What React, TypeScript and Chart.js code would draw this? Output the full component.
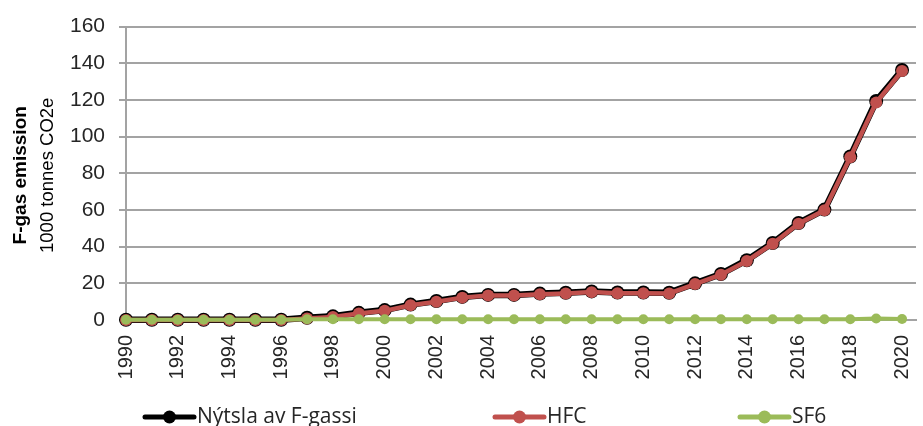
import React, { useEffect, useRef } from "react";
import { Chart, registerables } from "chart.js";

Chart.register(...registerables);

const years = [
  1990, 1991, 1992, 1993, 1994, 1995, 1996, 1997, 1998, 1999, 2000, 2001, 2002, 2003, 2004, 2005,
  2006, 2007, 2008, 2009, 2010, 2011, 2012, 2013, 2014, 2015, 2016, 2017, 2018, 2019, 2020,
];

const totalValues = [
  0.1, 0.1, 0.1, 0.1, 0.1, 0.1, 0.1, 1.2, 2.0, 3.9, 5.4, 8.4, 10.4, 12.6, 13.7, 13.7,
  14.4, 14.9, 15.6, 15.0, 15.0, 14.9, 20.0, 25.1, 32.6, 42.0, 52.9, 60.2, 89.2, 119.4, 136.3,
];

const hfcValues = [
  0, 0, 0, 0, 0, 0, 0, 0.8, 1.6, 3.5, 5.0, 8.0, 10.0, 12.2, 13.3, 13.3,
  14.0, 14.5, 15.2, 14.6, 14.6, 14.5, 19.6, 24.7, 32.2, 41.6, 52.5, 59.8, 88.8, 118.6, 135.8,
];

const sf6Values = [
  0.1, 0.1, 0.1, 0.1, 0.1, 0.1, 0.1, 0.4, 0.4, 0.4, 0.4, 0.4, 0.4, 0.4, 0.4, 0.4,
  0.4, 0.4, 0.4, 0.4, 0.4, 0.4, 0.4, 0.4, 0.4, 0.4, 0.4, 0.4, 0.4, 0.8, 0.5,
];

const seriesLabels = ["Nýtsla av F-gassi", "HFC", "SF6"];
const yTitleMain = "F-gas emission";
const yTitleSub = "1000 tonnes CO2e";

const COLORS = ["#000000", "#c0504d", "#9bbb59"];
const GRID = "#a3a3a3";
const TEXT = "#262626";
const LEGEND_X = [145, 495, 740];

function toPoints(vals: number[]) {
  return years.map((y, i) => ({ x: y, y: vals[i] }));
}

const customPlugin = {
  id: "customDecor",
  afterDraw(chart: any) {
    const ctx = chart.ctx as CanvasRenderingContext2D;
    const area = chart.chartArea;
    const cy = (area.top + area.bottom) / 2 + 2;
    ctx.save();
    ctx.translate(21, cy);
    ctx.rotate(-Math.PI / 2);
    ctx.textAlign = "center";
    ctx.textBaseline = "middle";
    ctx.fillStyle = "#000";
    ctx.font = "bold 19px 'Liberation Sans', Arial, sans-serif";
    ctx.fillText(yTitleMain, 0, 0);
    ctx.restore();
    ctx.save();
    ctx.translate(48, cy);
    ctx.rotate(-Math.PI / 2);
    ctx.textAlign = "center";
    ctx.textBaseline = "middle";
    ctx.fillStyle = "#000";
    ctx.font = "18.5px 'Liberation Sans', Arial, sans-serif";
    ctx.fillText(yTitleSub, 0, 0);
    ctx.restore();

    // Legend
    ctx.save();
    const ly = 417;
    const sample = 49;
    ctx.font = "21px 'Open Sans', 'Liberation Sans', sans-serif";
    ctx.textBaseline = "middle";
    ctx.textAlign = "left";
    seriesLabels.forEach((label, i) => {
      const x = LEGEND_X[i];
      const col = COLORS[i];
      ctx.strokeStyle = col;
      ctx.lineWidth = 5;
      ctx.lineCap = "round";
      ctx.beginPath();
      ctx.moveTo(x, ly);
      ctx.lineTo(x + sample, ly);
      ctx.stroke();
      ctx.fillStyle = col;
      ctx.beginPath();
      ctx.arc(x + sample / 2, ly, 6.5, 0, Math.PI * 2);
      ctx.fill();
      ctx.fillStyle = TEXT;
      ctx.fillText(label, x + sample + 3, ly);
    });
    ctx.restore();
  },
};

export default function App() {
  const ref = useRef<HTMLCanvasElement | null>(null);

  useEffect(() => {
    if (!ref.current) return;
    const chart = new Chart(ref.current, {
      type: "line",
      data: {
        datasets: [
          {
            label: seriesLabels[2],
            data: toPoints(sf6Values),
            borderColor: COLORS[2],
            backgroundColor: COLORS[2],
            pointBackgroundColor: COLORS[2],
            pointBorderColor: COLORS[2],
            borderWidth: 4,
            pointRadius: 5,
            pointBorderWidth: 0,
            order: 0,
            clip: false,
          },
          {
            label: seriesLabels[1],
            data: toPoints(hfcValues),
            borderColor: COLORS[1],
            backgroundColor: COLORS[1],
            pointBackgroundColor: COLORS[1],
            pointBorderColor: COLORS[1],
            borderWidth: 4.5,
            pointRadius: 6,
            pointBorderWidth: 0,
            order: 1,
            clip: false,
          },
          {
            label: seriesLabels[0],
            data: toPoints(totalValues),
            borderColor: COLORS[0],
            backgroundColor: COLORS[0],
            pointBackgroundColor: COLORS[0],
            pointBorderColor: COLORS[0],
            borderWidth: 6.5,
            pointRadius: 7,
            pointBorderWidth: 0,
            order: 2,
            clip: false,
          },
        ],
      },
      options: {
        animation: false,
        responsive: false,
        events: [],
        layout: { padding: { top: 24, left: 0, right: 0, bottom: 0 } },
        plugins: {
          legend: { display: false },
          tooltip: { enabled: false },
          title: { display: false },
        },
        scales: {
          x: {
            type: "linear",
            min: 1990,
            max: 2020.54,
            grid: { display: false, drawTicks: false },
            border: { display: true, color: GRID, width: 2 },
            afterFit: (scale: any) => {
              scale.height = 106;
              scale.paddingLeft = 0;
              scale.paddingRight = 0;
            },
            ticks: {
              stepSize: 2,
              includeBounds: false,
              autoSkip: false,
              maxRotation: 90,
              minRotation: 90,
              padding: 15,
              color: TEXT,
              font: { family: "'Liberation Sans', Arial, sans-serif", size: 20 },
              callback: (v: any) => String(v),
            },
          },
          y: {
            min: 0,
            max: 160,
            afterFit: (scale: any) => {
              scale.width = 126;
            },
            grid: { color: GRID, lineWidth: 2, tickLength: 7, drawTicks: true },
            border: { display: true, color: GRID, width: 2 },
            ticks: {
              stepSize: 20,
              padding: 14,
              color: TEXT,
              font: { family: "'Liberation Sans', Arial, sans-serif", size: 21 },
              callback: (v: any) => String(v),
            },
          },
        },
      },
      plugins: [customPlugin],
    });
    return () => chart.destroy();
  }, []);

  return (
    <div style={{ position: "absolute", left: 0, top: 0, width: 923, height: 426, background: "#fff" }}>
      <canvas ref={ref} width={923} height={426} style={{ display: "block" }} />
    </div>
  );
}
